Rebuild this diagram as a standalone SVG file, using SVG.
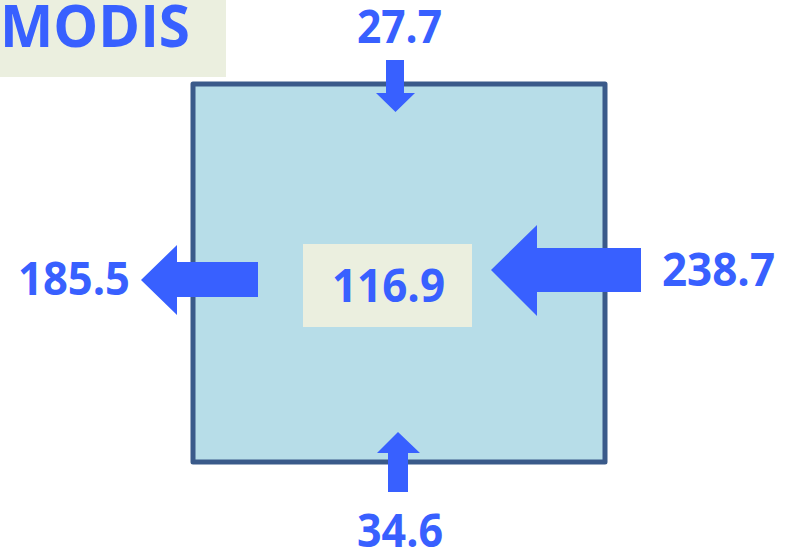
<svg xmlns="http://www.w3.org/2000/svg" width="795" height="553" viewBox="0 0 795 553">
<style>
.lbl{font-family:"Open Sans","Noto Sans","Liberation Sans",sans-serif;font-weight:bold;fill:#3860FF;}
.arr{fill:#3860FF;}
.beige{fill:#EBEFDF;}
</style>
<rect width="795" height="553" fill="#FFFFFF"/>
<g id="title">
<rect class="beige" x="0" y="0" width="226" height="77"/>
<text class="lbl" x="0" y="47" font-size="59" textLength="190" lengthAdjust="spacingAndGlyphs">MODIS</text>
</g>
<g id="box">
<rect x="193" y="84" width="412" height="378" fill="#B7DDE8" stroke="#3A5A8A" stroke-width="5" stroke-linejoin="round"/>
</g>
<g id="storage">
<rect class="beige" x="303" y="244" width="169" height="83"/>
<text class="lbl" x="332" y="302" font-size="46" textLength="113" lengthAdjust="spacingAndGlyphs">116.9</text>
</g>
<g id="connectors">
<polygon class="arr" points="386,60 404,60 404,93 415,93 395.5,112 376,93 386,93"/>
<polygon class="arr" points="388,492 408,492 408,453 420,453 398,432 377,453 388,453"/>
<polygon class="arr" points="258,262 258,297 177,297 177,315 141,280 177,245 177,262"/>
<polygon class="arr" points="641,248 641,292 537,292 537,316 491,270 537,225 537,248"/>
</g>
<g id="top-label"><text class="lbl" x="357" y="43" font-size="46" textLength="85" lengthAdjust="spacingAndGlyphs">27.7</text></g>
<g id="bottom-label"><text class="lbl" x="357" y="547" font-size="46" textLength="86" lengthAdjust="spacingAndGlyphs">34.6</text></g>
<g id="left-label"><text class="lbl" x="18" y="295" font-size="46" textLength="112" lengthAdjust="spacingAndGlyphs">185.5</text></g>
<g id="right-label"><text class="lbl" x="662" y="286" font-size="46" textLength="113" lengthAdjust="spacingAndGlyphs">238.7</text></g>
</svg>
